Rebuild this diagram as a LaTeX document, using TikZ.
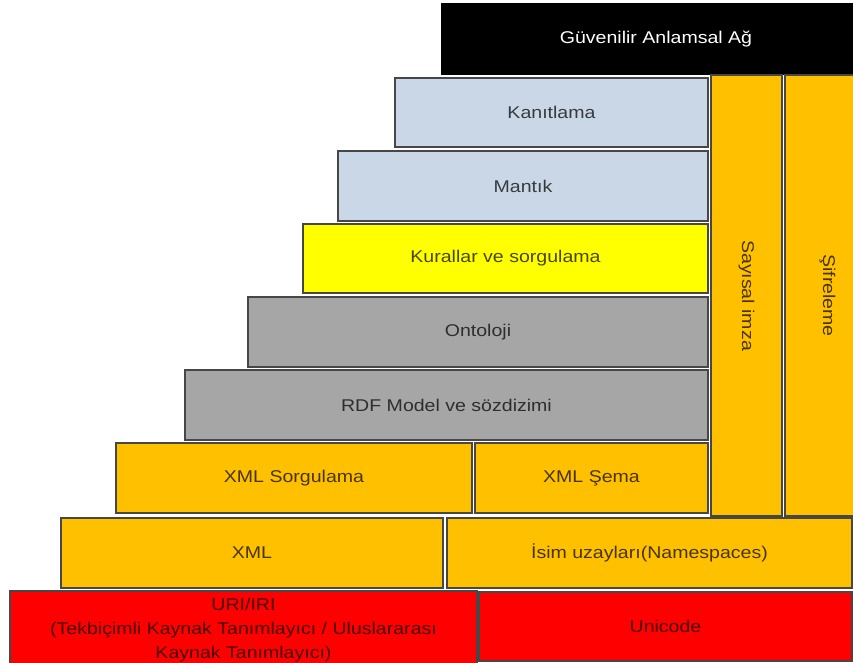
\documentclass[tikz,border=0pt]{standalone}
\usepackage{fontspec}
\setmainfont{Liberation Sans}[FakeStretch=1.15]
\begin{document}
\definecolor{proofblue}{HTML}{C9D7E6}
\definecolor{ruleyellow}{HTML}{FFFF00}
\definecolor{rdfgray}{HTML}{A6A6A6}
\definecolor{xmlorange}{HTML}{FFC000}
\definecolor{urired}{HTML}{FF0000}
\tikzset{
  layer/.style={draw=black!72, line width=1.2pt, inner sep=0pt,
    text=black, text opacity=0.72, align=center,
    font=\fontsize{12.75}{18}\selectfont},
}
% \lyr[opts]{name}{x1}{y1}{x2}{y2}{fill}{text}  -- corners in px, y downward
\newcommand\lyr[8][]{%
  \node[layer, fill=#7, minimum width={(#5-#3)*0.75pt},
        minimum height={(#6-#4)*0.75pt}, #1]
    (#2) at ({(#3+#5)/2},{(#4+#6)/2}) {#8};}
\begin{tikzpicture}[x=0.75pt, y=-0.75pt]
  \useasboundingbox (0,0) rectangle (853,663);
  \clip (0,0) rectangle (853,663);
  \fill[white] (0,0) rectangle (853,663);

  % top layer
  \lyr[draw=black, text=white!88, text opacity=1]{trust}{442}{4}{870}{74}{black}{Güvenilir Anlamsal Ağ}

  % stacked layers
  \lyr{proof}{395}{78}{708}{147}{proofblue}{Kanıtlama}
  \lyr{logic}{338}{151}{708}{221}{proofblue}{Mantık}
  \lyr{rules}{303}{224}{708}{293}{ruleyellow}{Kurallar ve sorgulama}
  \lyr{onto}{248}{297}{708}{367}{rdfgray}{Ontoloji}
  \lyr{rdf}{185}{370}{708}{440}{rdfgray}{RDF Model ve sözdizimi}
  \lyr{xmlq}{116}{443}{472}{513}{xmlorange}{XML Sorgulama}
  \lyr{xsd}{475}{443}{708}{513}{xmlorange}{XML Şema}
  \lyr{xml}{61}{518}{443}{588}{xmlorange}{XML}
  \lyr{ns}{447}{518}{852}{588}{xmlorange}{İsim uzayları(Namespaces)}
  \lyr{uri}{10}{591}{477}{670}{urired}{URI/IRI\\(Tekbiçimli Kaynak Tanımlayıcı / Uluslararası\\Kaynak Tanımlayıcı)}
  \lyr{uni}{479}{592}{852}{661}{urired}{Unicode}

  % vertical columns
  \lyr{sig}{711}{75}{782}{516}{xmlorange}{\rotatebox{-90}{Sayısal imza}}
  \lyr{enc}{785}{75}{870}{516}{xmlorange}{\rotatebox{-90}{Şifreleme}}
\end{tikzpicture}
\end{document}
